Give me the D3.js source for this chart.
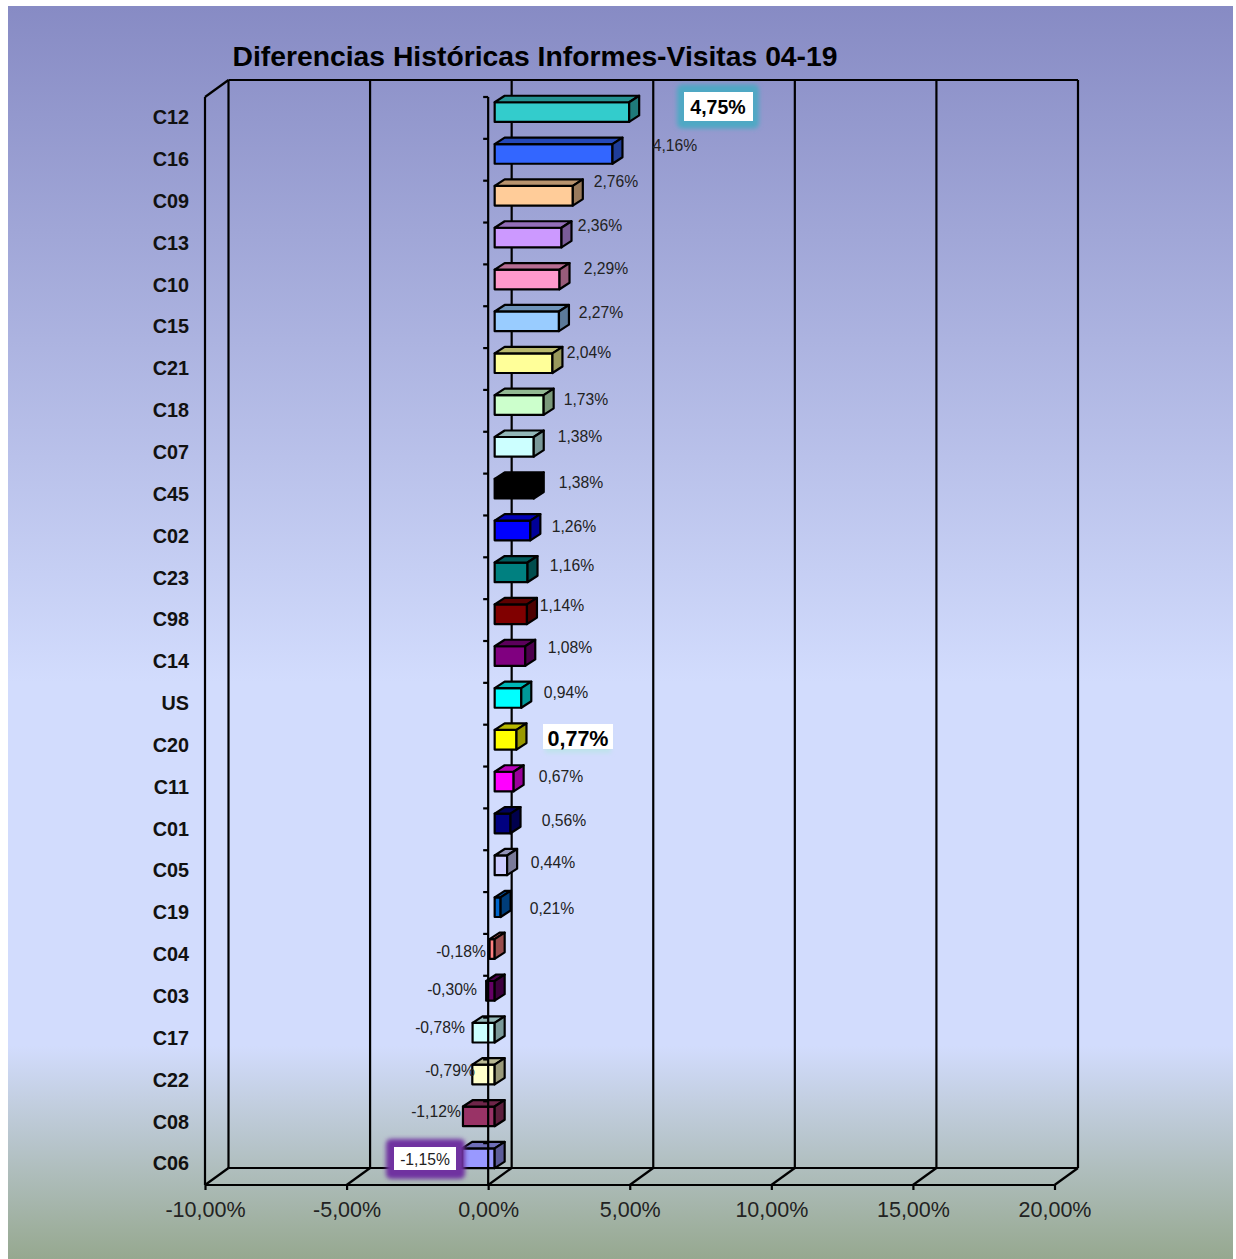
<!DOCTYPE html>
<html><head><meta charset="utf-8">
<script src="https://cdn.jsdelivr.net/npm/d3@7/dist/d3.min.js"></script>
<style>html,body{margin:0;padding:0;background:#fff}svg{display:block}text{font-family:"Liberation Sans",Arial,sans-serif}</style>
</head><body><div id="chart"></div>
<script>
const categories = ["C12","C16","C09","C13","C10","C15","C21","C18","C07","C45","C02","C23","C98","C14","US","C20","C11","C01","C05","C19","C04","C03","C17","C22","C08","C06"];
const values = [4.75,4.16,2.76,2.36,2.29,2.27,2.04,1.73,1.38,1.38,1.26,1.16,1.14,1.08,0.94,0.77,0.67,0.56,0.44,0.21,-0.18,-0.30,-0.78,-0.79,-1.12,-1.15];
const barColors = ["#33CCCC","#3366FF","#FFCC99","#CC99FF","#FF99CC","#99CCFF","#FFFF99","#CCFFCC","#CCFFFF","#000000","#0000FF","#008080","#800000","#800080","#00FFFF","#FFFF00","#FF00FF","#000080","#CCCCFF","#0066CC","#FF8080","#660066","#CCFFFF","#FFFFCC","#993366","#9999FF"];
const xTicks = [-10,-5,0,5,10,15,20];
const titleText = "Diferencias Históricas Informes-Visitas 04-19";

// layout: hand-placed label centres, as in the source chart
const labelCx = [718,675,616,600,606,601,589,586,580,581,574,572,562,570,566,578,561,564,553,552,461,452,440,450,436,425];
const labelCy = [106.5,145.5,181.5,225.5,268.5,312.5,352.5,399.5,436.5,482.5,526.5,565.5,605.5,647.5,692.5,738,776.5,820.5,862.5,908.5,951.5,989.5,1027.5,1070.5,1111.5,1159];

const W=1236,H=1259,strokeW=2.2;
const front={l:205,r:1054.5,t:97,b:1185}, depth={x:23.5,y:-17};
const barDepth={x:10,y:-6.5}, barBase=6.5;

const x=d3.scaleLinear().domain([-10,20]).range([front.l,front.r]);
const y=d3.scaleBand().domain(categories).range([front.t,front.b]);
const fmt=v=>v.toFixed(2).replace(".",",")+"%";

const svg=d3.select("#chart").append("svg").attr("width",W).attr("height",H);
const defs=svg.append("defs");
const g=defs.append("linearGradient").attr("id","bg").attr("x1",0).attr("y1",0).attr("x2",0).attr("y2",1);
[[0,"#878BC4"],[0.54,"#D2DCFD"],[0.83,"#D2DCFD"],[1,"#96A88F"]].forEach(s=>g.append("stop").attr("offset",s[0]).attr("stop-color",s[1]));
defs.append("filter").attr("id","glow").attr("x","-40%").attr("y","-60%").attr("width","180%").attr("height","220%")
  .append("feGaussianBlur").attr("stdDeviation",2.2);

svg.append("rect").attr("x",8).attr("y",6).attr("width",1225).attr("height",1253).attr("fill","url(#bg)");

svg.append("text").attr("x",535).attr("y",66).attr("text-anchor","middle")
  .attr("font-size",28.3).attr("font-weight","bold").attr("fill","#000").text(titleText);

const frame=svg.append("g").attr("fill","none").attr("stroke","#000").attr("stroke-width",strokeW);
// back wall + gridlines
xTicks.forEach(t=>{
  frame.append("line").attr("x1",x(t)+depth.x).attr("x2",x(t)+depth.x).attr("y1",front.t+depth.y).attr("y2",front.b+depth.y);
  frame.append("line").attr("x1",x(t)).attr("x2",x(t)+depth.x).attr("y1",front.b).attr("y2",front.b+depth.y);
});
frame.append("line").attr("x1",x(-10)+depth.x).attr("x2",x(20)+depth.x).attr("y1",front.t+depth.y).attr("y2",front.t+depth.y);
frame.append("line").attr("x1",x(-10)+depth.x).attr("x2",x(20)+depth.x).attr("y1",front.b+depth.y).attr("y2",front.b+depth.y);
frame.append("line").attr("x1",front.l).attr("x2",front.l+depth.x).attr("y1",front.t).attr("y2",front.t+depth.y);
frame.append("line").attr("x1",front.l).attr("x2",front.l).attr("y1",front.t).attr("y2",front.b);

// bars
const bars=svg.append("g").attr("stroke","#000").attr("stroke-width",strokeW).attr("stroke-linejoin","round");
categories.forEach((c,i)=>{
  const v=values[i], col=d3.color(barColors[i]);
  const shade=k=>d3.rgb(col.r*k,col.g*k,col.b*k).formatHex();
  const x0=x(Math.min(v,0))+barBase, x1=x(Math.max(v,0))+barBase;
  const y0=y(c)+y.bandwidth()*0.125, y1=y0+y.bandwidth()*0.47;
  const dx=barDepth.x, dy=barDepth.y;
  const b=bars.append("g");
  b.append("rect").attr("x",x0).attr("y",y0).attr("width",x1-x0).attr("height",y1-y0).attr("fill",barColors[i]);
  b.append("path").attr("d",`M${x0},${y0}L${x0+dx},${y0+dy}L${x1+dx},${y0+dy}L${x1},${y0}Z`).attr("fill",shade(0.72));
  b.append("path").attr("d",`M${x1},${y0}L${x1+dx},${y0+dy}L${x1+dx},${y1+dy}L${x1},${y1}Z`).attr("fill",shade(0.6));
});

// front bottom axis
const axB=svg.append("g").attr("transform",`translate(0,${front.b})`)
  .call(d3.axisBottom(x).tickValues(xTicks).tickSize(5).tickPadding(12).tickFormat(fmt));
axB.selectAll("path,line").attr("stroke","#000").attr("stroke-width",strokeW);
axB.selectAll("text").attr("font-size",21.5).attr("fill","#222").attr("font-family",'"Liberation Sans",Arial,sans-serif');
axB.select(".domain").attr("d",`M${front.l},0H${front.r}`);

// category axis at zero, ticks on band edges
const axis0=svg.append("g").attr("stroke","#000").attr("stroke-width",strokeW);
axis0.append("line").attr("x1",x(0)).attr("x2",x(0)).attr("y1",front.t).attr("y2",front.b);
categories.forEach(c=>axis0.append("line").attr("x1",x(0)-5).attr("x2",x(0)).attr("y1",y(c)).attr("y2",y(c)));

// category names
const axL=svg.append("g").attr("transform","translate(189,0)").call(d3.axisLeft(y).tickSize(0).tickPadding(0));
axL.select(".domain").remove();
axL.selectAll("text").attr("font-size",19.8).attr("font-weight","bold").attr("fill","#111").attr("font-family",'"Liberation Sans",Arial,sans-serif');

// value labels
const labels=svg.append("g");
categories.forEach((c,i)=>{
  const cx=labelCx[i], cy=labelCy[i], t=fmt(values[i]);
  if(c==="C12"){
    labels.append("rect").attr("x",cx-41).attr("y",cy-22).attr("width",82).attr("height",44).attr("rx",5).attr("fill","#4FA8C4").attr("filter","url(#glow)");
    labels.append("rect").attr("x",cx-34).attr("y",cy-14.5).attr("width",69).attr("height",29).attr("fill","#fff");
  } else if(c==="C06"){
    labels.append("rect").attr("x",cx-39).attr("y",cy-20).attr("width",79).attr("height",40).attr("rx",5).attr("fill","#7030A0").attr("filter","url(#glow)");
    labels.append("rect").attr("x",cx-31).attr("y",cy-12).attr("width",62).attr("height",23).attr("fill","#fff");
  } else if(c==="C20"){
    labels.append("rect").attr("x",cx-33).attr("y",cy-6).attr("width",66).attr("height",21).attr("fill","#BFE3EC").attr("filter","url(#glow)");
    labels.append("rect").attr("x",cx-35).attr("y",cy-14).attr("width",70).attr("height",25).attr("fill","#fff");
  }
  const big=(c==="C12"||c==="C20");
  labels.append("text").attr("x",cx).attr("y",cy).attr("dy","0.36em").attr("text-anchor","middle")
    .attr("font-size",c==="C20"?21.5:big?19.5:15.7).attr("font-weight",big?"bold":"normal").attr("fill",big?"#000":"#222").text(t);
});
</script></body></html>
